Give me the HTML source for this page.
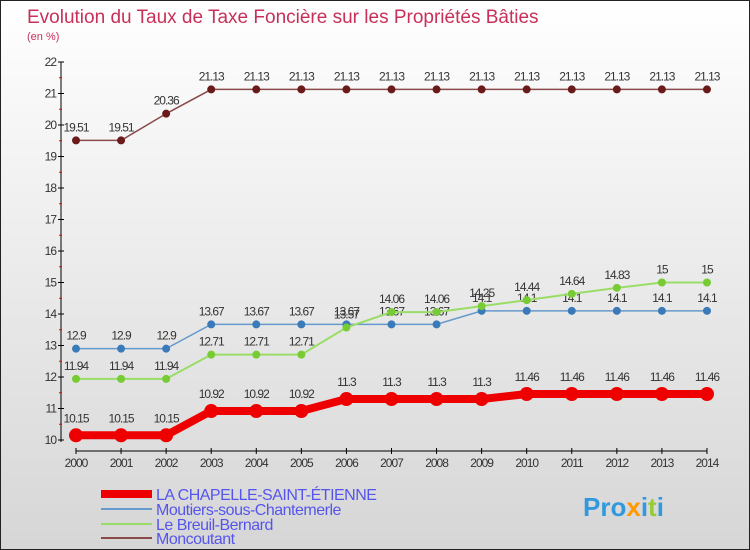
<!DOCTYPE html>
<html><head><meta charset="utf-8"><style>
body{margin:0;width:750px;height:550px;overflow:hidden;font-family:"Liberation Sans",sans-serif}
#wrap{position:relative;width:748px;height:548px;border:1px solid #222;background:linear-gradient(#ffffff,#d6d6d6)}
</style></head><body>
<div id="wrap">
<svg id="chart" width="748" height="548" style="position:absolute;left:0;top:0"></svg>
</div>
<script>
const years=[2000,2001,2002,2003,2004,2005,2006,2007,2008,2009,2010,2011,2012,2013,2014];
const yTicks=[10,11,12,13,14,15,16,17,18,19,20,21,22];
const chapelle=[10.15,10.15,10.15,10.92,10.92,10.92,11.3,11.3,11.3,11.3,11.46,11.46,11.46,11.46,11.46];
const moutiers=[12.9,12.9,12.9,13.67,13.67,13.67,13.67,13.67,13.67,14.1,14.1,14.1,14.1,14.1,14.1];
const breuil=[11.94,11.94,11.94,12.71,12.71,12.71,13.57,14.06,14.06,14.25,14.44,14.64,14.83,15,15];
const moncoutant=[19.51,19.51,20.36,21.13,21.13,21.13,21.13,21.13,21.13,21.13,21.13,21.13,21.13,21.13,21.13];
const seriesNames=["LA CHAPELLE-SAINT-ÉTIENNE","Moutiers-sous-Chantemerle","Le Breuil-Bernard","Moncoutant"];
const NS="http://www.w3.org/2000/svg";
const svg=document.getElementById('chart');
const X=i=>75+i*45.07, Y=v=>439-(v-10)*31.5;
function mk(t,a,p){const e=document.createElementNS(NS,t);for(const k in a)e.setAttribute(k,a[k]);(p||svg).appendChild(e);return e;}
let t=mk('text',{x:26,y:22,fill:'#c8305a','font-size':19});t.textContent='Evolution du Taux de Taxe Foncière sur les Propriétés Bâties';

t=mk('text',{x:26,y:39,fill:'#c8305a','font-size':11});t.textContent='(en %)';

// axes
let ax=mk('line',{x1:60,y1:61,x2:60,y2:441,stroke:'#000'});
ax=mk('line',{x1:75,y1:450,x2:706,y2:450,stroke:'#000'});
yTicks.forEach(v=>{mk('line',{x1:57,y1:Y(v),x2:63,y2:Y(v),stroke:'#000'});
 if(v<22)mk('line',{x1:58,y1:Y(v+0.5),x2:61,y2:Y(v+0.5),stroke:'#e00'});
 const e=mk('text',{x:55,y:Y(v)+4,'text-anchor':'end','font-size':12,fill:'#333','letter-spacing':'-1'});e.textContent=v;
 });
years.forEach((yr,i)=>{mk('line',{x1:X(i),y1:447,x2:X(i),y2:453,stroke:'#000'});
 const e=mk('text',{x:X(i),y:466,'text-anchor':'middle','font-size':12,fill:'#333','letter-spacing':'-1'});e.textContent=yr;
 });
function series(data,col,dot,w,r,name,labOff){
 const g=mk('g',{});
 mk('polyline',{points:data.map((v,i)=>X(i)+','+Y(v)).join(' '),fill:'none',stroke:col,'stroke-width':w},g);
 data.forEach((v,i)=>{const c=mk('circle',{cx:X(i),cy:Y(v),r:r,fill:dot},g);
  const e=mk('text',{x:X(i),y:Y(v)-labOff,'text-anchor':'middle','font-size':12,fill:'#333','letter-spacing':'-1'},g);e.textContent=v;});
}
series(moncoutant,'#8a4a4a','#6a1a1a',1.5,4,'series-moncoutant',9);
series(moutiers,'#6699cc','#3a7ab8',1.5,4,'series-moutiers',9);
series(breuil,'#99dd66','#77cc33',2,4,'series-breuil',9);
series(chapelle,'#ee0000','#ee0000',8,7,'series-chapelle',13);
const lc=['#ee0000','#6699cc','#99dd66','#8a4a4a'],lw=[8,2,2,2],ly=[493,508,523,537];
seriesNames.forEach((n,i)=>{const g=mk('g',{});
 mk('line',{x1:100,y1:ly[i],x2:151,y2:ly[i],stroke:lc[i],'stroke-width':lw[i]},g);
 const e=mk('text',{x:155,y:ly[i]+6,'font-size':16,fill:'#5555ee','letter-spacing':'-0.5'},g);e.textContent=n;});
const lg=mk('text',{x:582,y:515,'font-size':26,'font-weight':'bold',fill:'#3399dd'});
lg.innerHTML='Pro<tspan fill="#ff9900">x</tspan>i<tspan fill="#99cc33">t</tspan>i';

</script>
</body></html>
